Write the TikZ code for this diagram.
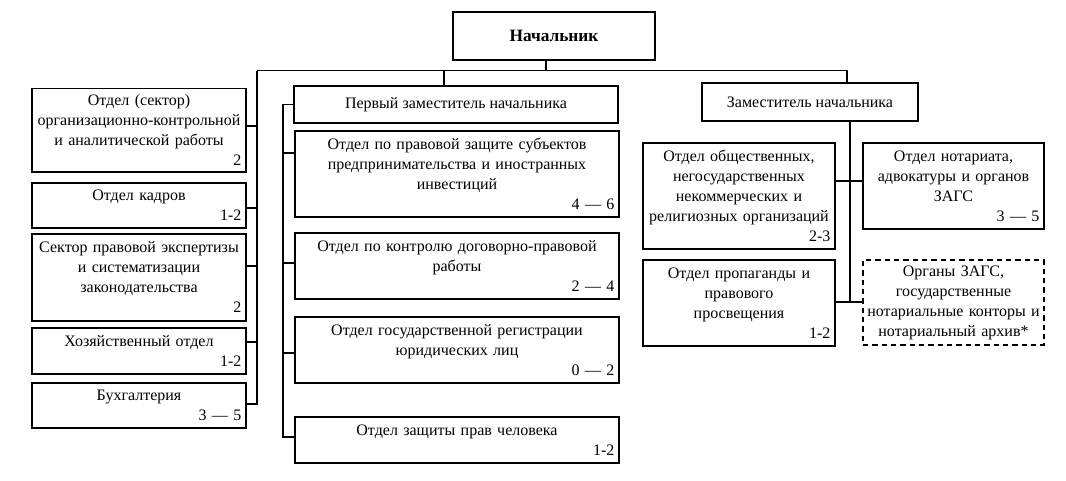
\documentclass[tikz,border=0pt]{standalone}
\usepackage{fontspec}
\setmainfont{Liberation Serif}
\newcommand{\numr}[1]{\\\hspace*{0pt plus 1filll}#1}
\begin{document}
\begin{tikzpicture}[x=0.75pt,y=-0.75pt,
  bx/.style={draw, line width=1.3pt, inner xsep=3.5pt, inner ysep=0pt, align=center,
    font=\fontsize{12pt}{15pt}\selectfont},
  lbox/.style={bx, minimum width=160.5pt, text width=153.5pt},
  mbox/.style={bx, minimum width=243pt, text width=236pt},
  rabox/.style={bx, minimum width=144pt, text width=137pt},
  rbbox/.style={bx, minimum width=135.75pt, text width=128.75pt},
  cn/.style={line width=1.2pt}]
\useasboundingbox (0,0) rectangle (1066,480);
\fill[white] (0,0) rectangle (1066,480);

% top
\node[bx, minimum width=151.5pt, minimum height=36pt, font=\fontsize{13pt}{15pt}\selectfont\bfseries] (boss) at (554,36) {Начальник};
\node[bx, minimum width=243pt, minimum height=27.75pt] (p) at (456,104.5) {Первый заместитель начальника};
\node[bx, minimum width=162pt, minimum height=28.9pt] (z) at (810,102) {Заместитель начальника};

% left column
\node[lbox, minimum height=62.6pt] (l1) at (139,130.25) {Отдел (сектор)\\организационно-контрольной\\и аналитической работы\numr{2}};
\node[lbox, minimum height=33.75pt] (l2) at (139,205.5) {Отдел кадров\numr{1-2}};
\node[lbox, minimum height=65.25pt] (l3) at (139,277.5) {Сектор правовой экспертизы\\и систематизации\\законодательства\numr{2}};
\node[lbox, minimum height=34.5pt] (l4) at (139,351) {Хозяйственный отдел\numr{1-2}};
\node[lbox, minimum height=33.75pt] (l5) at (139,405.5) {Бухгалтерия\numr{3 — 5}};

% middle column
\node[mbox, minimum height=64.5pt] (m1) at (457,174) {Отдел по правовой защите субъектов\\предпринимательства и иностранных\\инвестиций\numr{4 — 6}};
\node[mbox, minimum height=49.5pt] (m2) at (457,266) {Отдел по контролю договорно-правовой\\работы\numr{2 — 4}};
\node[mbox, minimum height=49.5pt] (m3) at (457,350) {Отдел государственной регистрации\\юридических лиц\numr{0 — 2}};
\node[mbox, minimum height=34.5pt] (m4) at (457,440) {Отдел защиты прав человека\numr{1-2}};

% right columns
\node[rabox, minimum height=79.5pt] (r1) at (739,196) {Отдел общественных,\\негосударственных\\некоммерческих и\\религиозных организаций\numr{2-3}};
\node[rabox, minimum height=64.5pt] (r3) at (739,303) {Отдел пропаганды и\\правового\\просвещения\numr{1-2}};
\node[rbbox, minimum height=64.5pt] (r2) at (953.5,186) {Отдел нотариата,\\адвокатуры и органов\\ЗАГС\numr{3 — 5}};
\node[bx, minimum width=135.75pt, inner xsep=1.5pt, text width=132.75pt, minimum height=63.75pt, line width=1.1pt, dash pattern=on 4pt off 3pt] (r4) at (953.5,302.5) {Органы ЗАГС,\\государственные\\нотариальные конторы и\\нотариальный архив*};

% connectors
\coordinate (busL) at (257,70.6);
\coordinate (busR) at (847,70.6);
\coordinate (mv) at (283,0);
\coordinate (rv) at (850,0);

\draw[cn] ([xshift=-6pt]boss.south) |- (busL);
\draw[cn] (busL) -- (busR) -- (busR |- z.north);
\draw[cn] ([xshift=-9pt]p.north |- busL) -- ([xshift=-9pt]p.north);

\draw[cn] (busL) |- ([yshift=1pt]l5.east);
\draw[cn] ([yshift=3pt]l1.east) -- ([yshift=3pt]l1.east -| busL);
\draw[cn] ([yshift=-2pt]l2.east) -- ([yshift=-2pt]l2.east -| busL);
\draw[cn] ([yshift=8.6pt]l3.east) -- ([yshift=8.6pt]l3.east -| busL);
\draw[cn] ([yshift=6.75pt]l4.east) -- ([yshift=6.75pt]l4.east -| busL);

\draw[cn] (p.west) -- (p.west -| mv) |- ([yshift=2.25pt]m4.west);
\draw[cn] ([yshift=15.75pt]m1.west) -- ([yshift=15.75pt]m1.west -| mv);
\draw[cn] ([yshift=2.25pt]m2.west) -- ([yshift=2.25pt]m2.west -| mv);
\draw[cn] ([yshift=-2.25pt]m3.west) -- ([yshift=-2.25pt]m3.west -| mv);

\draw[cn] (z.south -| rv) -- ([yshift=0.75pt]r3.east -| rv);
\draw[cn] ([yshift=11.25pt]r1.east) -- ([yshift=11.25pt]r1.east -| r2.west);
\draw[cn] ([yshift=0.75pt]r3.east) -- ([yshift=0.75pt]r3.east -| r4.west);
\end{tikzpicture}
\end{document}
